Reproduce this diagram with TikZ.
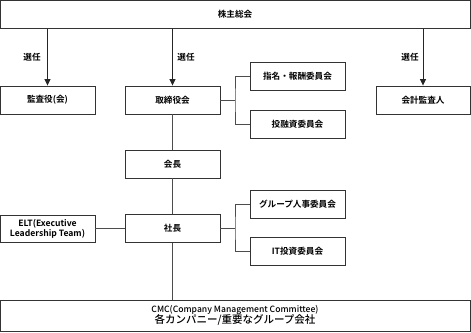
\documentclass[tikz,border=0pt]{standalone}
\usepackage{fontspec}
\setmainfont{Noto Sans CJK JP}[BoldFont={Noto Sans CJK JP Bold}]
\newfontfamily\cjkmed{Noto Sans CJK JP Medium}
\usetikzlibrary{arrows.meta}
\begin{document}
\begin{tikzpicture}[x=1pt,y=-1pt,
  box/.style={draw=black!80,line width=0.9pt,fill=white,inner sep=0pt,align=center,
    font=\fontsize{8.6}{10}\selectfont\bfseries},
  conn/.style={draw=black!70,line width=0.8pt},
  arr/.style={draw=black!85,line width=0.8pt,-{Triangle[length=6.5pt,width=6pt]}},
  lab/.style={font=\fontsize{8.6}{10}\selectfont\bfseries,inner sep=0pt}]
\useasboundingbox (0,0) rectangle (471,332);
\node[box,minimum width=470pt,minimum height=28pt] (gm) at (235,14.5) {株主総会};
\node[box,minimum width=95pt,minimum height=28pt] (audit) at (47.5,100) {監査役(会)};
\node[box,minimum width=95pt,minimum height=28pt] (board) at (172.5,100) {取締役会};
\node[box,minimum width=94pt,minimum height=28pt] (acct) at (423,100) {会計監査人};
\node[box,minimum width=95pt,minimum height=28pt] (nom) at (297.5,76) {指名・報酬委員会};
\node[box,minimum width=95pt,minimum height=28pt] (inv) at (297.5,124) {投融資委員会};
\node[box,minimum width=95pt,minimum height=28pt] (chair) at (172.5,164) {会長};
\node[box,minimum width=95pt,minimum height=28pt] (pres) at (172.5,228.5) {社長};
\node[box,minimum width=95pt,minimum height=27pt] (elt) at (47.5,228.5) {ELT(Executive\\Leadership Team)};
\node[box,minimum width=95pt,minimum height=28pt] (hr) at (297.5,204) {グループ人事委員会};
\node[box,minimum width=95pt,minimum height=28pt] (it) at (297.5,251.5) {IT投資委員会};
\node[box,minimum width=470pt,minimum height=31pt,font=\cjkmed\fontsize{8.6}{10}\selectfont] (cmc) at (235,315.5) {CMC(Company Management Committee)\\[-1pt]{\fontsize{10.5}{11}\selectfont 各カンパニー/重要なグループ会社}};
\coordinate (b1) at (235,100);
\coordinate (b2) at (235,228.5);
\draw[arr] (gm.south -| audit) -- (audit.north);
\draw[arr] (gm.south -| board) -- (board.north);
\draw[arr] (gm.south -| acct) -- (acct.north);
\node[lab] at (32,57) {選任};
\node[lab] at (186,57) {選任};
\node[lab] at (410,57) {選任};
\draw[conn] (board.east) -- (b1);
\draw[conn] (nom.west) -| (b1) |- (inv.west);
\draw[conn] (board.south) -- (chair.north);
\draw[conn] (chair.south) -- (pres.north);
\draw[conn] (pres.east) -- (b2);
\draw[conn] (hr.west) -| (b2) |- (it.west);
\draw[conn] (elt.east) -- (pres.west);
\draw[conn] (pres.south) -- (pres.south |- cmc.north);
\end{tikzpicture}
\end{document}
